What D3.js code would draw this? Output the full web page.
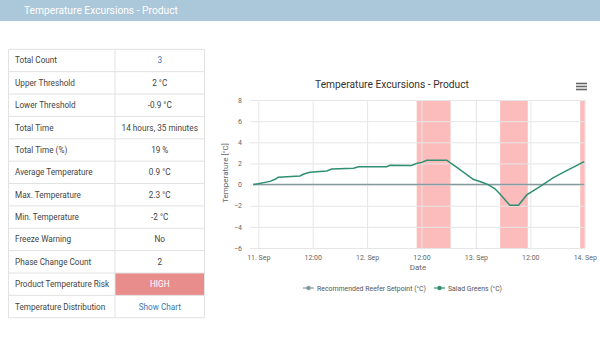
<!DOCTYPE html>
<html><head><meta charset="utf-8">
<script src="https://cdn.jsdelivr.net/npm/d3@7"></script>
<style>
body{margin:0;background:#fff;font-family:Roboto,"Noto Sans",sans-serif;}
svg{display:block}
</style></head><body>
<svg id="c" width="600" height="337"></svg>
<script>
const pageTitle = "Temperature Excursions - Product";
const chartTitle = "Temperature Excursions - Product";
const tableLabels = ["Total Count","Upper Threshold","Lower Threshold","Total Time","Total Time (%)","Average Temperature","Max. Temperature","Min. Temperature","Freeze Warning","Phase Change Count","Product Temperature Risk","Temperature Distribution"];
const tableValues = ["3","2 °C","-0.9 °C","14 hours, 35 minutes","19 %","0.9 °C","2.3 °C","-2 °C","No","2","HIGH","Show Chart"];
const seriesNames = ["Recommended Reefer Setpoint (°C)","Salad Greens (°C)"];
const times = ["2021-09-10T22:54","2021-09-11T02:36","2021-09-11T03:42","2021-09-11T04:24","2021-09-11T06:18","2021-09-11T09:12","2021-09-11T09:54","2021-09-11T11:24","2021-09-11T15:06","2021-09-11T16:12","2021-09-11T21:00","2021-09-11T22:06","2021-09-12T04:18","2021-09-12T05:03","2021-09-12T09:48","2021-09-12T10:54","2021-09-12T12:03","2021-09-12T13:09","2021-09-12T17:34","2021-09-12T18:18","2021-09-12T20:06","2021-09-12T23:24","2021-09-13T01:30","2021-09-13T02:42","2021-09-13T04:12","2021-09-13T05:18","2021-09-13T07:30","2021-09-13T09:24","2021-09-13T11:12","2021-09-13T14:06","2021-09-13T17:06","2021-09-13T20:00","2021-09-13T23:54"];
const saladGreens = [0,0.3,0.5,0.69,0.75,0.81,0.97,1.16,1.29,1.47,1.54,1.69,1.69,1.83,1.8,2.0,2.1,2.3,2.3,2.07,1.54,0.5,0.2,0.0,-0.4,-0.9,-1.96,-1.96,-0.98,-0.2,0.65,1.32,2.17];
const setpoint = times.map(() => 0);
const bandStarts = ["2021-09-12T10:56","2021-09-13T05:20","2021-09-13T23:00"];
const bandEnds = ["2021-09-12T18:24","2021-09-13T11:26","2021-09-14T00:00"];
const xTicks = ["2021-09-11T00:00","2021-09-11T12:00","2021-09-12T00:00","2021-09-12T12:00","2021-09-13T00:00","2021-09-13T12:00","2021-09-14T00:00"];
const xTickLabels = ["11. Sep","12:00","12. Sep","12:00","13. Sep","12:00","14. Sep"];
const yTicks = [-6,-4,-2,0,2,4,6,8];

const parse = s => new Date(s + ":00Z");
const svg = d3.select("#c");
const font = "Roboto, 'Noto Sans', sans-serif";

function fitText(sel, target){
  const w = sel.node().getComputedTextLength();
  const fs = +sel.attr("font-size");
  sel.attr("font-size", fs*target/w);
}

// header
svg.append("rect").attr("x",0).attr("y",0).attr("width",600).attr("height",21).attr("fill","#abc7da");
const ht = svg.append("text").attr("x",24).attr("y",14).attr("fill","#fff").attr("font-size",12).attr("font-family",font).text(pageTitle);
fitText(ht,154);

// table
const tX0 = 8.5, tX1 = 115, tX2 = 204.5, tY0 = 49.3, rowH = 22.37;
const tg = svg.append("g");
tableLabels.forEach((lab, i) => {
  const y = tY0 + i*rowH;
  if (tableValues[i] === "HIGH") {
    tg.append("rect").attr("x",tX1).attr("y",y).attr("width",tX2-tX1).attr("height",rowH).attr("fill","#e98c8c");
  }
  tg.append("text").attr("x",15).attr("y",y+rowH/2+3).attr("font-size",8.2).attr("font-family",font).attr("fill","#444").text(lab);
  let col = "#444";
  if (i===0 || tableValues[i]==="Show Chart") col = "#3a78b5";
  if (tableValues[i]==="HIGH") col = "#fff";
  tg.append("text").attr("x",(tX1+tX2)/2).attr("y",y+rowH/2+3).attr("text-anchor","middle").attr("font-size",8.2).attr("font-family",font).attr("fill",col).text(tableValues[i]);
});
for (let i=0;i<=tableLabels.length;i++){
  tg.append("line").attr("x1",tX0).attr("x2",tX2).attr("y1",tY0+i*rowH).attr("y2",tY0+i*rowH).attr("stroke","#e2e2e2").attr("stroke-width",1);
}
[tX0,tX1,tX2].forEach(x=>tg.append("line").attr("x1",x).attr("x2",x).attr("y1",tY0).attr("y2",tY0+tableLabels.length*rowH).attr("stroke","#e2e2e2"));

// chart
const pL = 250, pR = 585, pT = 100, pB = 248;
const tAll = times.map(parse);
const x = d3.scaleUtc().domain(d3.extent(tAll)).range([253.3, 584.3]);
const y = d3.scaleLinear().domain([-6, 8]).range([pB, pT]);

const ct = svg.append("text").attr("x",392).attr("y",88).attr("text-anchor","middle").attr("font-size",12).attr("font-family",font).attr("fill","#333").text(chartTitle);
fitText(ct,154);
// menu icon
[83.5,86.5,89.5].forEach(yy=>svg.append("line").attr("x1",576).attr("x2",587).attr("y1",yy).attr("y2",yy).attr("stroke","#666").attr("stroke-width",1.6));

// bands
const cg = svg.append("g");
bandStarts.forEach((s,i)=>{
  const a = Math.max(pL, x(parse(s))), b = Math.min(pR, x(parse(bandEnds[i])));
  cg.append("rect").attr("x",a).attr("y",pT).attr("width",b-a).attr("height",pB-pT).attr("fill","#fdbcbc");
});

// grid y
const yAxis = d3.axisLeft(y).tickValues(yTicks).tickSize(-(pR-pL)).tickFormat(d3.format("d"));
const gy = svg.append("g").attr("transform",`translate(${pL},0)`).call(yAxis);
gy.select(".domain").remove();
gy.selectAll("line").attr("stroke","#e6e6e6");
gy.selectAll("text").attr("x",-8).attr("font-size",7).attr("font-family",font).attr("fill","#666");

// grid x
const xAxis = d3.axisBottom(x).tickValues(xTicks.map(parse)).tickSize(-(pB-pT)).tickFormat((d,i)=>xTickLabels[i]);
const gx = svg.append("g").attr("transform",`translate(0,${pB})`).call(xAxis);
gx.select(".domain").remove();
gx.selectAll("line").attr("stroke","#e6e6e6");
gx.selectAll("text").attr("y",7).attr("font-size",7).attr("font-family",font).attr("fill","#666");

// axis titles
svg.append("text").attr("transform","translate(228,173) rotate(-90)").attr("text-anchor","middle").attr("font-size",8).attr("font-family",font).attr("fill","#666").text("Temperature [°C]");
svg.append("text").attr("x",418).attr("y",270).attr("text-anchor","middle").attr("font-size",8).attr("font-family",font).attr("fill","#666").text("Date");

// lines
const line = d3.line().x((d,i)=>x(tAll[i])).y(d=>y(d));
svg.append("path").datum(setpoint).attr("d",line).attr("fill","none").attr("stroke","#869aa0").attr("stroke-width",1.5);
svg.append("path").datum(saladGreens).attr("d",line).attr("fill","none").attr("stroke","#2f8f72").attr("stroke-width",1.5);

// legend
const legColors = ["#869aa0","#2f8f72"];
const legX = [303, 434];
const legW = [109, 54];
seriesNames.forEach((n,i)=>{
  const g = svg.append("g").attr("transform",`translate(${legX[i]},288)`);
  g.append("line").attr("x1",0).attr("x2",11).attr("y1",0).attr("y2",0).attr("stroke",legColors[i]).attr("stroke-width",1.2);
  g.append("circle").attr("cx",5.5).attr("cy",0).attr("r",2.2).attr("fill",legColors[i]);
  const t = g.append("text").attr("x",14).attr("y",2.8).attr("font-size",7.8).attr("font-family",font).attr("fill","#555").text(n);
  fitText(t, legW[i]);
});
</script>
</body></html>
